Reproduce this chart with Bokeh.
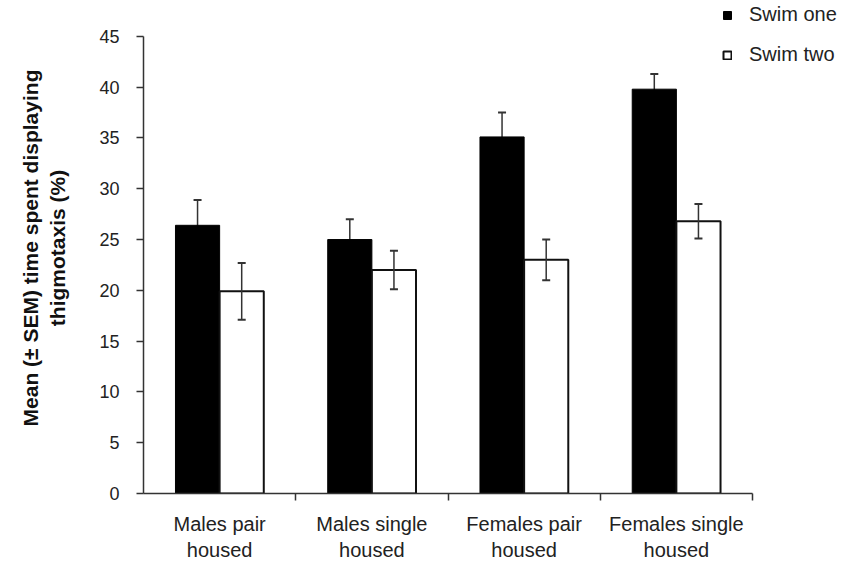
import numpy as np
from bokeh.plotting import figure
from bokeh.models import (Range1d, FixedTicker, Whisker, ColumnDataSource, Legend, LegendItem, TeeHead)
from bokeh.embed import file_html
from bokeh.resources import INLINE

groups = ["Males pair\nhoused", "Males single\nhoused", "Females pair\nhoused", "Females single\nhoused"]
swim_one = [26.4, 25.0, 35.1, 39.8]
swim_one_sem = [2.5, 2.0, 2.4, 1.5]
swim_two = [19.9, 22.0, 23.0, 26.8]
swim_two_sem = [2.8, 1.9, 2.0, 1.7]
y_ticks = [0, 5, 10, 15, 20, 25, 30, 35, 40, 45]
y_max = 45

n = len(groups)
centers = np.arange(n) + 0.5
bw = 0.29
x1 = centers - bw / 2
x2 = centers + bw / 2

# frame: left edge at 143px, y=0 at 495px, y=45 at 36px, x=4 at 752px
W, H = 848, 563
left, top = 143, 2
frame_w = W - left
frame_h = 495 - top
y_end = frame_h * y_max / 459.0
x_end = frame_w * n / 609.0

p = figure(width=W, height=H, output_backend="svg", toolbar_location=None,
           x_range=Range1d(0, x_end), y_range=Range1d(0, y_end),
           min_border_left=left, min_border_right=0, min_border_top=top, min_border_bottom=H - 495)
p.outline_line_color = None
p.xgrid.visible = False
p.ygrid.visible = False

s1 = ColumnDataSource(dict(x=x1, top=swim_one, up=np.array(swim_one) + np.array(swim_one_sem),
                           lo=np.array(swim_one) - np.array(swim_one_sem)))
s2 = ColumnDataSource(dict(x=x2, top=swim_two, up=np.array(swim_two) + np.array(swim_two_sem),
                           lo=np.array(swim_two) - np.array(swim_two_sem)))

r1 = p.vbar(x="x", top="top", width=bw, source=s1, fill_color="black", line_color="black", line_width=1)
r2 = p.vbar(x="x", top="top", width=bw, source=s2, fill_color="white", line_color="#111111", line_width=2)

for s, lvl in ((s1, "underlay"), (s2, "overlay")):
    w = Whisker(base="x", upper="up", lower="lo", source=s, line_color="#333333", line_width=1.5,
                upper_head=TeeHead(size=8, line_color="#333333", line_width=2),
                lower_head=TeeHead(size=8, line_color="#333333", line_width=2),
                level=lvl)
    p.add_layout(w)

# x axis
p.xaxis.bounds = (0, n)
p.xaxis.ticker = FixedTicker(ticks=list(centers), minor_ticks=list(range(1, n + 1)))
p.xaxis.major_label_overrides = {float(c): g for c, g in zip(centers, groups)}
p.xaxis.major_tick_out = 0
p.xaxis.major_tick_in = 0
p.xaxis.minor_tick_out = 7
p.xaxis.minor_tick_in = 0
p.xaxis.minor_tick_line_color = "#333333"
p.xaxis.minor_tick_line_width = 1.5
p.xaxis.axis_line_color = "#333333"
p.xaxis.axis_line_width = 1.5
p.xaxis.major_label_text_font = "Liberation Sans"
p.xaxis.major_label_text_font_size = "20px"
p.xaxis.major_label_text_color = "#222222"
p.xaxis.major_label_standoff = 12

# y axis
p.yaxis.bounds = (0, y_max)
p.yaxis.ticker = FixedTicker(ticks=y_ticks, minor_ticks=[])
p.yaxis.major_tick_out = 7
p.yaxis.major_tick_in = 0
p.yaxis.major_tick_line_color = "#333333"
p.yaxis.major_tick_line_width = 1.5
p.yaxis.axis_line_color = "#333333"
p.yaxis.axis_line_width = 1.5
p.yaxis.major_label_text_font = "Liberation Sans"
p.yaxis.major_label_text_font_size = "18px"
p.yaxis.major_label_text_color = "#222222"
p.yaxis.major_label_standoff = 17
p.yaxis.axis_label = "Mean (\u00b1 SEM) time spent displaying\nthigmotaxis (%)"
p.yaxis.axis_label_text_font = "Liberation Sans"
p.yaxis.axis_label_text_font_style = "bold"
p.yaxis.axis_label_text_font_size = "21px"
p.yaxis.axis_label_text_color = "#111111"
p.yaxis.axis_label_standoff = 27

legend = Legend(items=[LegendItem(label="Swim one", renderers=[r1]),
                       LegendItem(label="Swim two", renderers=[r2])],
                location=(579, 427), orientation="vertical",
                glyph_width=10, glyph_height=10, label_standoff=17, spacing=17,
                padding=0, margin=0, border_line_color=None, background_fill_alpha=0,
                label_text_font="Liberation Sans", label_text_font_size="20px",
                label_text_color="#222222", label_height=20)
p.add_layout(legend)

open("out.html", "w").write(file_html(p, INLINE))
